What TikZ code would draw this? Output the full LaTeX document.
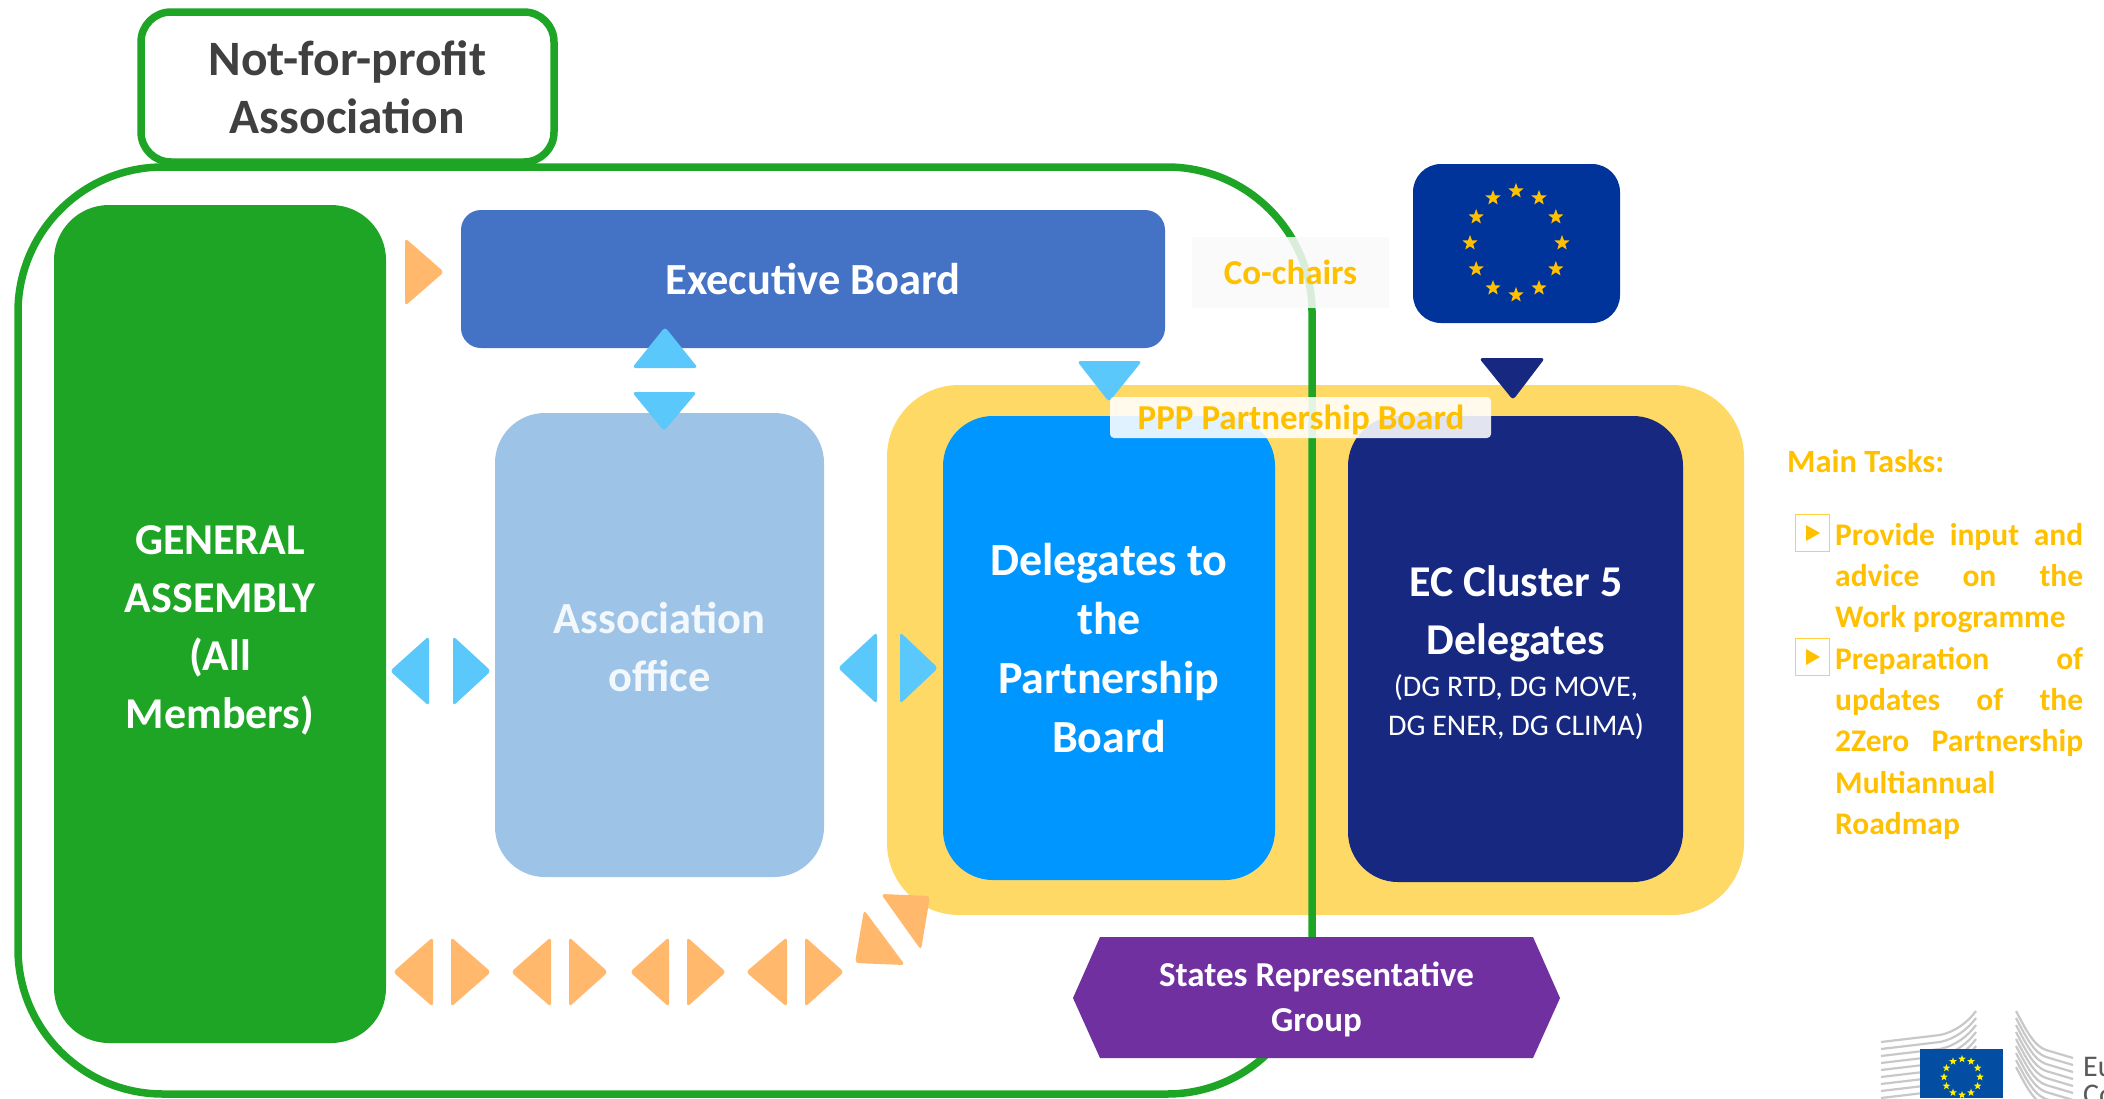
\documentclass[tikz,border=0pt]{standalone}
\usepackage{fontspec}
\usetikzlibrary{shapes.geometric,calc}
\setmainfont{Carlito}
\definecolor{gagreen}{HTML}{1FA526}
\definecolor{exblue}{HTML}{4472C4}
\definecolor{offblue}{HTML}{9DC3E6}
\definecolor{ppyellow}{HTML}{FFD966}
\definecolor{delblue}{HTML}{0096FF}
\definecolor{ecnavy}{HTML}{162880}
\definecolor{flagblue}{HTML}{00349B}
\definecolor{purp}{HTML}{7030A0}
\definecolor{orangetri}{HTML}{FFB86C}
\definecolor{bluetri}{HTML}{5AC8FA}
\definecolor{taskgold}{HTML}{FFC000}
\definecolor{logoblue}{HTML}{034EA2}
\definecolor{logogray}{HTML}{C8C8C8}
\newcommand{\fs}[2]{\fontsize{#1}{#2}\selectfont}
\tikzset{
  x=1pt,y=-1pt,
  panel/.style={rectangle,inner sep=0pt,align=center,text=white,font=\bfseries},
  otri/.style={fill=orangetri,rounded corners=3.5pt},
  btri/.style={fill=bluetri,rounded corners=3.5pt},
  flagstar/.style={star,star points=5,star point ratio=2.4,fill=taskgold,inner sep=0pt,minimum size=16pt},
  logostar/.style={star,star points=5,star point ratio=2.4,fill=yellow,inner sep=0pt,minimum size=8pt},
  tasktext/.style={text=taskgold,font=\bfseries\fs{31.5}{41.3},inner sep=0pt,anchor=north west,align=left},
  taskbox/.style={draw=taskgold!75,line width=1.8pt,fill=white,rectangle,inner sep=0pt,minimum width=34pt,minimum height=37pt}
}
\newcommand{\jl}[1]{\hbox to 248pt{#1}}
\begin{document}
\begin{tikzpicture}
\useasboundingbox (0,0) rectangle (2104,1098);
\fill[white] (0,0) rectangle (2104,1098);
% PPP block
\node[panel,fill=ppyellow,rounded corners=72pt,minimum width=857pt,minimum height=530pt] (ppp) at (1315.5,650) {};
\node[panel,fill=delblue,rounded corners=50pt,minimum width=332pt,minimum height=464pt,font=\bfseries\fs{46}{59}] (del) at (1109,648) {Delegates to\\the\\Partnership\\Board};
\node[panel,fill=ecnavy,rounded corners=50pt,minimum width=335pt,minimum height=466pt] (ec) at (1515.5,649) {};
\node[text=white,font=\bfseries\fs{44}{58},align=center,inner sep=0pt] (ect) at (1516,614) {EC Cluster 5\\Delegates};
\node[text=white,font=\fs{30}{39},align=center,inner sep=0pt] (ecs) at (1516,707) {(DG RTD, DG MOVE,\\DG ENER, DG CLIMA)};
% frame
\node[rectangle,draw=gagreen,line width=7.5pt,rounded corners=145pt,minimum width=1294pt,minimum height=927pt,inner sep=0pt] (frame) at (665,630.5) {};
\node[rectangle,draw=gagreen,line width=7.5pt,fill=white,rounded corners=30pt,minimum width=413pt,minimum height=150pt,inner sep=0pt,align=center,text=black!75,font=\bfseries\fs{49.5}{58}] (nfp) at (347.5,87) {Not-for-profit\\Association};
% boxes
\node[panel,fill=gagreen,rounded corners=55pt,minimum width=332pt,minimum height=838pt] (ga) at (220,624) {};
\node[text=white,font=\bfseries\fs{44}{58},align=center,inner sep=0pt] (gat) at (220,630) {GENERAL\\ASSEMBLY\\(All\\Members)};
\node[panel,fill=exblue,rounded corners=20pt,minimum width=704pt,minimum height=138pt,font=\bfseries\fs{44.5}{58}] (exec) at (813,279) {Executive Board};
\node[panel,fill=offblue,rounded corners=50pt,minimum width=329pt,minimum height=464pt] (off) at (659.5,645) {};
\node[text=white!88!offblue,font=\bfseries\fs{44.5}{58},align=center,inner sep=0pt] (offt) at (659.5,647) {Association\\office};
\node[rectangle,fill=flagblue,rounded corners=28pt,minimum width=207pt,minimum height=159pt,inner sep=0pt] (flag) at (1516.5,243.5) {};
\foreach \i in {0,30,...,330}
  \node[flagstar] (fs\i) at ($(1516,243)+(\i:46pt and 52pt)$) {};
% co-chairs
\node[rectangle,fill=white!98!black,fill opacity=.85,text opacity=1,text=taskgold,font=\bfseries\fs{35}{40},minimum width=197pt,minimum height=71pt,inner sep=0pt] (co) at (1290.5,272.5) {Co-chairs};
% triangles
\fill[otri] (405,238) -- (444,272) -- (405,306) -- cycle;
\fill[btri] (632,368) -- (665,327) -- (698,368) -- cycle;
\fill[btri] (632,392) -- (697,392) -- (664,431) -- cycle;
\fill[btri] (429,636) -- (390,671) -- (429,706) -- cycle;
\fill[btri] (453,636) -- (491,671) -- (453,706) -- cycle;
\fill[btri] (877,632) -- (838,668) -- (877,704) -- cycle;
\fill[btri] (900,632) -- (938,668) -- (900,704) -- cycle;
\fill[btri] (1077,361) -- (1142,361) -- (1109,402) -- cycle;
\fill[ecnavy,rounded corners=3.5pt] (1479,358) -- (1545,358) -- (1513,400) -- cycle;
\foreach \a/\b/\c/\d in {393/433/451/491,511/551/569/608,630/669/687/726,746/787/805/844}{
  \fill[otri] (\b,937) -- (\a,972) -- (\b,1007) -- cycle;
  \fill[otri] (\c,937) -- (\d,972) -- (\c,1007) -- cycle;
}
\fill[otri] (864,910) -- (855,963) -- (905,965) -- cycle;
\fill[otri] (881,894) -- (930,896) -- (921,950) -- cycle;
% PPP label
\node[rectangle,fill=white,fill opacity=.88,rounded corners=4pt,minimum width=381pt,minimum height=41pt,inner sep=0pt] (ppl) at (1300.5,417.5) {};
\node[text=taskgold,font=\bfseries\fs{35}{40},inner sep=0pt] (pplt) at (1301,419.5) {PPP Partnership Board};
% states hexagon
\node[inner sep=0pt] (hexc) at (1316.5,999) {};
\fill[purp] (1073,998) -- (1100,937) -- (1533,937) -- (1560,998) -- (1533,1058) -- (1100,1058) -- cycle;
\node[text=white,font=\bfseries\fs{35}{45},align=center,inner sep=0pt] (st) at (hexc) {States Representative\\Group};
% tasks
\node[text=taskgold,font=\bfseries\fs{32.5}{38},inner sep=0pt,anchor=west] (mt) at (1787,461) {Main Tasks:};
\node[taskbox] (tb1) at (1812.5,533) {};
\node[taskbox] (tb2) at (1812.5,657) {};
\fill[taskgold] (1806,525) -- (1820,533) -- (1806,541) -- cycle;
\fill[taskgold] (1806,649) -- (1820,657) -- (1806,665) -- cycle;
\node[tasktext] (tt) at (1835,523) {\jl{Provide\hfill input\hfill and}\\\jl{advice\hfill on\hfill the}\\Work programme\\\jl{Preparation\hfill of}\\\jl{updates\hfill of\hfill the}\\\jl{2Zero\hfill Partnership}\\Multiannual\\Roadmap};
% EC logo
\begin{scope}
\clip (1870,1000) rectangle (2104,1098);
\foreach \k in {0,...,8}{
  \draw[logogray,line width=2.2pt] (1881,1042+\k*7) -- (1940,1035+\k*7) .. controls (1955,1032+\k*7) and (1968,1022+\k*7) .. (1976,1011+\k*7);
  \draw[logogray,line width=2.2pt] (2016,1011+\k*7) .. controls (2026,1030+\k*7) and (2034,1046+\k*7) .. (2046,1050+\k*7) -- (2073,1058+\k*7);
}
\fill[logoblue] (1920,1049) rectangle (2003,1098);
\foreach \i in {0,30,...,330}
  \node[logostar] (ls\i) at ($(1962,1077)+(\i:18pt)$) {};
\node[text=black!65,font=\fs{30}{30},inner sep=0pt,anchor=base west] (eu) at (2083,1076) {Eu};
\node[text=black!65,font=\fs{30}{30},inner sep=0pt,anchor=base west] (co2) at (2083,1104) {Co};
\end{scope}
\end{tikzpicture}
\end{document}
